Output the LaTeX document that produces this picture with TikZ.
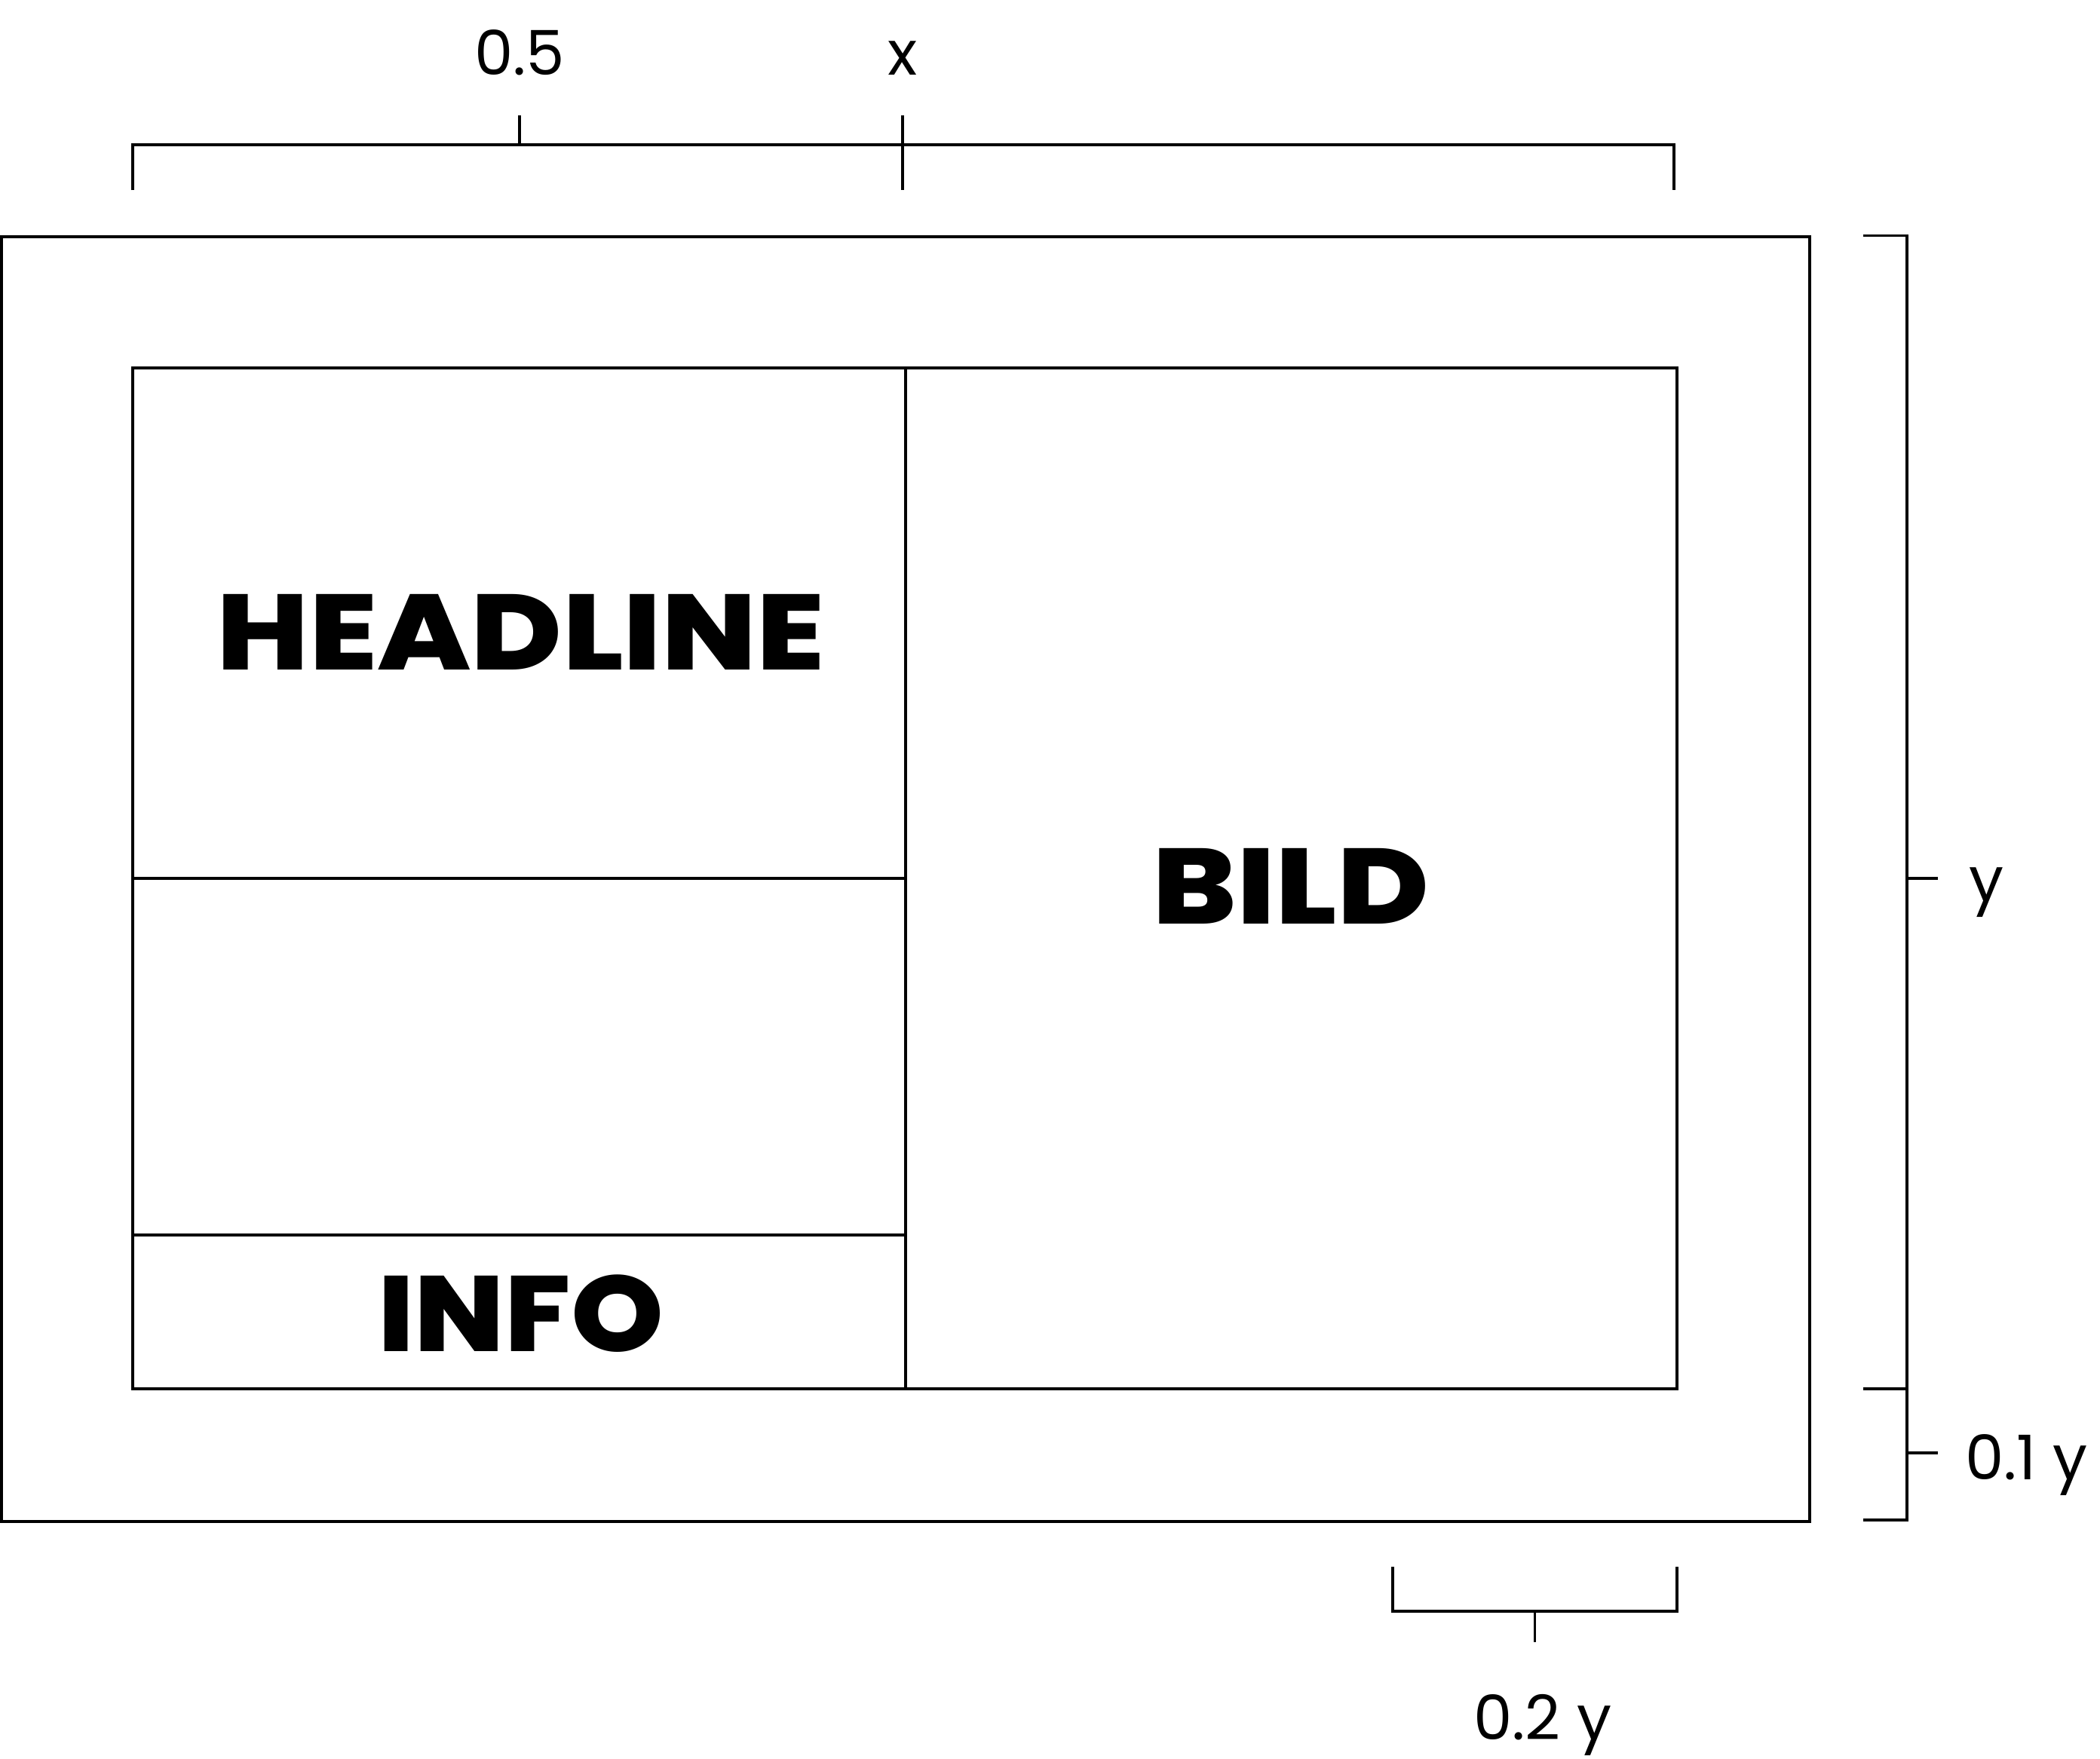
\documentclass[tikz,border=0pt]{standalone}
\usepackage{fontspec}
\setmainfont{Poppins}
\newfontfamily\heavyfont{Poppins ExtraBold}
\begin{document}
\begin{tikzpicture}[x=1pt,y=-1pt,
  frame/.style={line width=2.2pt},
  measure/.style={line width=2pt},
  bigtxt/.style={inner sep=0pt,font=\heavyfont\fontsize{80}{80}\selectfont},
  dimtxt/.style={inner sep=0pt,font=\fontsize{46}{46}\selectfont}]
  \useasboundingbox (0,0) rectangle (1568,1313);
  % outer page and inner layout area
  \coordinate (o1) at (1,177);   \coordinate (o2) at (1351,1136);
  \coordinate (i1) at (99,275);   \coordinate (i2) at (1252,1037);
  \coordinate (dt) at (676,275);  \coordinate (db) at (676,1037);
  \coordinate (h1) at (99,656);   \coordinate (h2) at (676,656);
  \coordinate (f1) at (99,922);   \coordinate (f2) at (676,922);
  \draw[frame] (o1) rectangle (o2);
  \draw[frame] (i1) rectangle (i2);
  \draw[frame] (dt) -- (db);
  \draw[frame] (h1) -- (h2);
  \draw[frame] (f1) -- (f2);
  % wide heavy captions
  \node[bigtxt] (headline) at (389,472) {\scalebox{1.16}[1]{HEADLINE}};
  \node[bigtxt] (bild) at (964,662) {\scalebox{1.17}[1]{BILD}};
  \node[bigtxt] (info) at (389,981) {\scalebox{1.10}[1]{INFO}};
  % top dimension: width x with half mark
  \coordinate (ta) at (99,142);  \coordinate (tb) at (99,108);
  \coordinate (tc) at (1250,108); \coordinate (td) at (1250,142);
  \coordinate (th1) at (388,108); \coordinate (th2) at (388,86);
  \coordinate (tx1) at (674,86);  \coordinate (tx2) at (674,142);
  \draw[measure] (ta) -- (tb) -- (tc) -- (td);
  \draw[measure] (th1) -- (th2);
  \draw[measure] (tx1) -- (tx2);
  \node[dimtxt,anchor=base] (half) at (388,56) {0.5};
  \node[dimtxt,anchor=base] (xlab) at (674,56) {x};
  % right dimension: height y and margin 0.1 y
  \coordinate (ra1) at (1391,176);  \coordinate (ra2) at (1424,176);
  \coordinate (rb1) at (1391,1037); \coordinate (rb2) at (1424,1037);
  \coordinate (rc1) at (1391,1135); \coordinate (rc2) at (1424,1135);
  \coordinate (ry1) at (1424,656);  \coordinate (ry2) at (1447,656);
  \coordinate (rm1) at (1424,1085); \coordinate (rm2) at (1447,1085);
  \draw[measure] (ra1) -- (ra2) -- (rc2) -- (rc1);
  \draw[measure] (rb1) -- (rb2);
  \draw[measure] (ry1) -- (ry2);
  \draw[measure] (rm1) -- (rm2);
  \node[dimtxt,anchor=base] (ylab) at (1483,673) {y};
  \node[dimtxt,anchor=base west] (marg) at (1467,1105) {0.1 y};
  % bottom dimension: 0.2 y
  \coordinate (ba) at (1040,1170); \coordinate (bb) at (1040,1203);
  \coordinate (bc) at (1252,1203); \coordinate (bd) at (1252,1170);
  \coordinate (bm1) at (1146,1203); \coordinate (bm2) at (1146,1226);
  \draw[measure] (ba) -- (bb) -- (bc) -- (bd);
  \draw[measure] (bm1) -- (bm2);
  \node[dimtxt,anchor=base] (twol) at (1152,1299) {0.2 y};
\end{tikzpicture}
\end{document}
